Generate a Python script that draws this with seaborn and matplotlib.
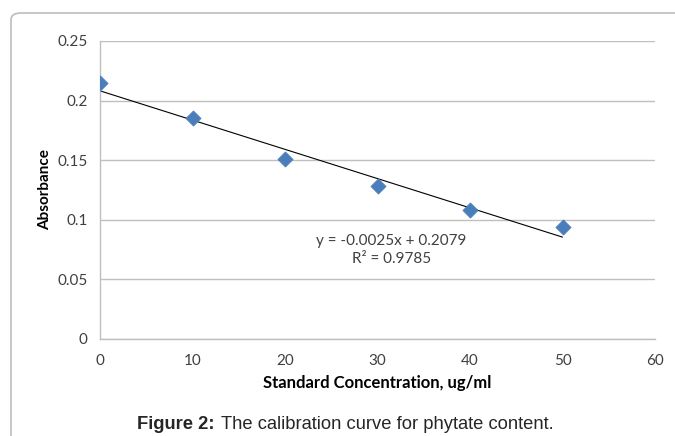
import matplotlib
matplotlib.use("Agg")
import matplotlib.pyplot as plt
from matplotlib.patches import FancyBboxPatch
import seaborn as sns
import pandas as pd

concentration = [0, 10, 20, 30, 40, 50]
absorbance = [0.215, 0.185, 0.151, 0.128, 0.108, 0.094]
x_ticks = [0, 10, 20, 30, 40, 50, 60]
y_ticks = [0, 0.05, 0.1, 0.15, 0.2, 0.25]
y_tick_labels = ["0", "0.05", "0.1", "0.15", "0.2", "0.25"]
equation_text = "y = -0.0025x + 0.2079"
r2_text = "R² = 0.9785"
x_label = "Standard Concentration, ug/ml"
y_label = "Absorbance"
caption_bold = "Figure 2:"
caption_rest = "The calibration curve for phytate content."

df = pd.DataFrame({"conc": concentration, "abs": absorbance})

sns.set_theme(style="white")
plt.rcParams["font.family"] = ["Lato", "DejaVu Sans"]

fig = plt.figure(figsize=(6.75, 4.36), dpi=100)
ax = fig.add_axes([100 / 675, 1 - 339 / 436, 555 / 675, 298 / 436])

# outer chart border (rounded, extends beyond the right and bottom edges)
border = FancyBboxPatch((11 / 675, -0.2), 1.2, 1 - 13 / 436 + 0.2,
                        boxstyle="round,pad=0,rounding_size=0.015",
                        transform=fig.transFigure, fill=False,
                        edgecolor="#bdbdbd", linewidth=1.2, zorder=0)
fig.patches.append(border)

sns.regplot(data=df, x="conc", y="abs", ax=ax, ci=None, scatter=False,
            line_kws=dict(color="black", linewidth=0.8), truncate=True)
sns.scatterplot(data=df, x="conc", y="abs", ax=ax, marker="D", s=60,
                color="#4a7ebb", edgecolor="#4a7ebb", linewidth=0.5, zorder=5)

ax.set_xlim(0, 60)
ax.set_ylim(0, 0.25)
ax.set_xticks(x_ticks)
ax.set_yticks(y_ticks)
ax.set_yticklabels(y_tick_labels)
ax.yaxis.grid(True, color="#bfbfbf", linewidth=1)
ax.xaxis.grid(False)
for side in ["top", "right"]:
    ax.spines[side].set_visible(False)
for side in ["left", "bottom"]:
    ax.spines[side].set_color("#bfbfbf")
    ax.spines[side].set_linewidth(1)
ax.tick_params(axis="both", which="both", length=5, width=1, color="#bfbfbf",
               labelsize=11, labelcolor="#404040", direction="out")
ax.tick_params(axis="x", pad=6)
ax.tick_params(axis="y", pad=4)
ax.set_xlabel(x_label, fontsize=12, fontweight="bold", color="black", labelpad=5)
ax.set_ylabel(y_label, fontsize=11, fontweight="bold", color="black", labelpad=4)

ax.text(31.5, 0.0825, equation_text, fontsize=11, color="#404040",
        ha="center", va="center")
ax.text(31.5, 0.0675, r2_text, fontsize=11, color="#404040",
        ha="center", va="center")

caption_y = 1 - 424 / 436
fig.text(137 / 675, caption_y, caption_bold, fontsize=13.2, fontweight="bold",
         family="Liberation Sans", ha="left", va="center")
fig.text(221 / 675, caption_y, caption_rest, fontsize=13.2,
         family="Liberation Sans", ha="left", va="center")

fig.savefig("out.png", dpi=100)
